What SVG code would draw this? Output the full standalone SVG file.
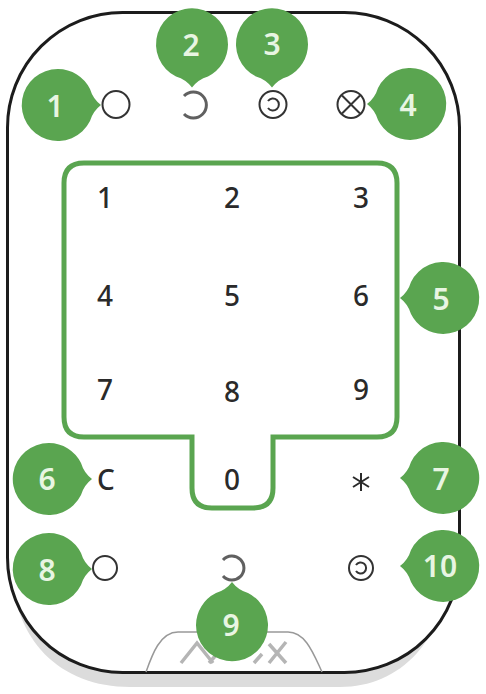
<svg xmlns="http://www.w3.org/2000/svg" width="486" height="694" viewBox="0 0 486 694">
<defs>
<path id="bubble" d="M0,-36 A36,36 0 0 1 32,-16 Q35,-6 43,0 Q35,6 32,16 A36,36 0 1 1 0,-36 Z"/>
<style>
.bub{fill:#5aa550}
.num{font-family:"Noto Sans","Open Sans",sans-serif;font-size:30px;font-weight:600;fill:#e8f5e2;text-anchor:middle}
.key{font-family:"Noto Sans","Open Sans",sans-serif;font-size:28px;font-weight:500;fill:#2a2a2a;text-anchor:middle}
.ico{fill:none;stroke:#333;stroke-width:2}
.ref{fill:none;stroke:#606060;stroke-width:3}
.logo{fill:none;stroke:#b5b5b5;stroke-width:3.500}
</style>
</defs>
<rect width="486" height="694" fill="#fff"/>
<g id="device">
<path d="M12,470 V565 C12,640 60,687 130,687 H340 C400,687 447,640 447,565 V470 Z" fill="#dcdcdc"/>
<rect x="7.500" y="12.500" width="452" height="660" rx="115" ry="115" fill="#fff" stroke="#1c1c1c" stroke-width="3"/>
<path d="M146,672 C152,655 160,632 178,632 H288 C306,632 314,655 322,672" fill="none" stroke="#999" stroke-width="1.500"/>
<path class="logo" d="M181,663 L197,643 L213,663 M209,663 L217,654 M254,663 L262,654 M269,663 L286,642 M269,644 L286,663"/>
</g>
<g id="keypad">
<path d="M84,163 H377 Q397,163 397,183 V417 Q397,437 377,437 H273 V488 Q273,508 253,508 H212 Q192,508 192,488 V437 H84 Q64,437 64,417 V183 Q64,163 84,163 Z" fill="none" stroke="#5aa550" stroke-width="5"/>
<text class="key" x="105" y="208">1</text>
<text class="key" x="232" y="208">2</text>
<text class="key" x="361" y="208">3</text>
<text class="key" x="105" y="306">4</text>
<text class="key" x="232" y="306">5</text>
<text class="key" x="361" y="306">6</text>
<text class="key" x="105" y="400">7</text>
<text class="key" x="232" y="402">8</text>
<text class="key" x="361" y="400">9</text>
<text class="key" x="106" y="490">C</text>
<text class="key" x="232" y="490">0</text>
<path d="M361,473 V491 M353,477 L369,487 M369,477 L353,487" fill="none" stroke="#2a2a2a" stroke-width="2"/>
</g>
<g id="icons">
<circle class="ico" cx="116" cy="104.500" r="13.500"/>
<path class="ref" d="M184,96 A13,13 0 1 1 184,114"/>
<circle class="ico" cx="273" cy="104.500" r="13.500"/>
<path class="ico" d="M268,101 A6,6 0 1 1 268,108"/>
<circle class="ico" cx="351" cy="104.500" r="13.500"/>
<path class="ico" d="M342,95.500 L360,113.500 M360,95.500 L342,113.500"/>
<circle class="ico" cx="105" cy="568" r="12"/>
<path class="ref" d="M223,560 A12,12 0 1 1 223,576"/>
<circle class="ico" cx="361" cy="568" r="12"/>
<path class="ico" d="M356,565 A5.500,5.500 0 1 1 356,571"/>
</g>
<g id="bubble1"><use href="#bubble" class="bub" x="58" y="105"/><text class="num" x="55" y="117">1</text></g>
<g id="bubble2"><use href="#bubble" class="bub" transform="translate(192,44.500) rotate(90)"/><text class="num" x="191" y="56">2</text></g>
<g id="bubble3"><use href="#bubble" class="bub" transform="translate(272,44.500) rotate(90)"/><text class="num" x="272" y="55">3</text></g>
<g id="bubble4"><use href="#bubble" class="bub" transform="translate(410,104) rotate(180)"/><text class="num" x="408" y="116">4</text></g>
<g id="bubble5"><use href="#bubble" class="bub" transform="translate(443,298) rotate(180)"/><text class="num" x="441" y="310">5</text></g>
<g id="bubble6"><use href="#bubble" class="bub" x="49" y="479"/><text class="num" x="47" y="490">6</text></g>
<g id="bubble7"><use href="#bubble" class="bub" transform="translate(443,478) rotate(180)"/><text class="num" x="441" y="490">7</text></g>
<g id="bubble8"><use href="#bubble" class="bub" x="49" y="569"/><text class="num" x="47" y="581">8</text></g>
<g id="bubble9"><use href="#bubble" class="bub" transform="translate(232,625) rotate(-90)"/><text class="num" x="231" y="636">9</text></g>
<g id="bubble10"><use href="#bubble" class="bub" transform="translate(443,566) rotate(180)"/><text class="num" x="440" y="577">10</text></g>
</svg>
